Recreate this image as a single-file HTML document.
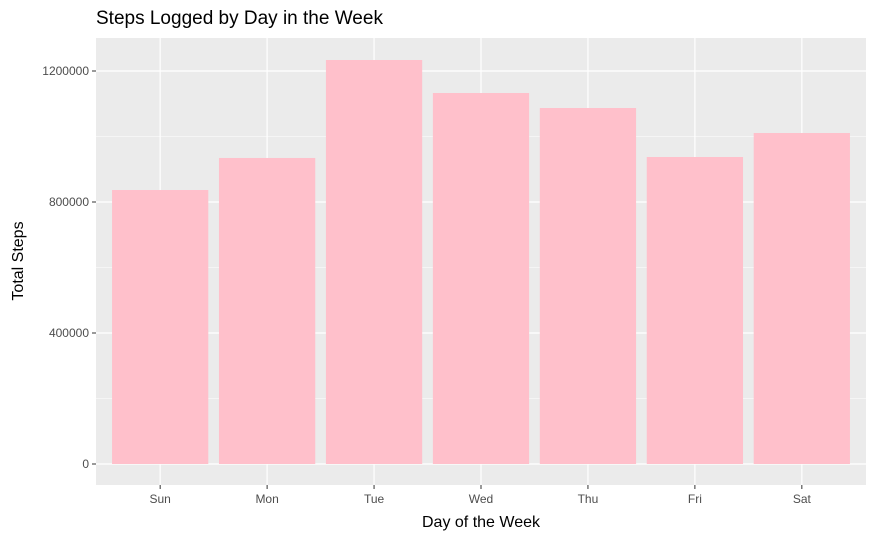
<!DOCTYPE html>
<html><head><meta charset="utf-8"><style>
body{margin:0;background:#fff;}
svg{display:block;font-family:"Liberation Sans",Arial,sans-serif;}
</style></head><body>
<svg id="chart" width="875" height="540">
<text x="96" y="24" font-size="19" fill="#000">Steps Logged by Day in the Week</text>
<rect x="96" y="38" width="770" height="447" fill="#ebebeb"/>
<g id="grid"></g><g id="bars"></g><g id="axes"></g>
<text x="481" y="527" font-size="16" text-anchor="middle" fill="#000">Day of the Week</text>
<text transform="translate(23,261) rotate(-90)" font-size="16" text-anchor="middle" fill="#000">Total Steps</text>
</svg>
<script>
const categories=["Sun","Mon","Tue","Wed","Thu","Fri","Sat"];
const steps=[836600,934400,1233600,1132800,1087000,937400,1010700];
const yTicks=[0,400000,800000,1200000];
const yMinor=[200000,600000,1000000];
const NS="http://www.w3.org/2000/svg";
const px0=96,pw=770,y0=464,yPer=393/1200000;
const step=pw/7.2,barW=step*0.9;
function xC(i){return px0+step*(0.6+i);}
function yS(v){return y0-v*yPer;}
function mk(t,a,p){const e=document.createElementNS(NS,t);for(const k in a)e.setAttribute(k,a[k]);p.appendChild(e);return e;}
const grid=document.getElementById('grid'),bars=document.getElementById('bars'),axes=document.getElementById('axes');
yMinor.forEach(v=>{const l=mk('line',{x1:px0,x2:px0+pw,y1:yS(v),y2:yS(v),stroke:'#fff','stroke-width':0.6},grid);

});
yTicks.forEach(v=>{const l=mk('line',{x1:px0,x2:px0+pw,y1:yS(v),y2:yS(v),stroke:'#fff','stroke-width':1.2},grid);


const t=mk('line',{x1:px0-4,x2:px0,y1:yS(v),y2:yS(v),stroke:'#333','stroke-width':1},axes);


const tx=mk('text',{x:px0-7,y:yS(v)+4,'font-size':12,'text-anchor':'end',fill:'#4d4d4d'},axes);
tx.textContent=String(v);

});
categories.forEach((c,i)=>{const x=xC(i);
const g=mk('line',{x1:x,x2:x,y1:38,y2:485,stroke:'#fff','stroke-width':1.2},grid);


const b=mk('rect',{x:x-barW/2,y:yS(steps[i]),width:barW,height:y0-yS(steps[i]),fill:'#ffc0cb'},bars);


const t=mk('line',{x1:x,x2:x,y1:485,y2:489,stroke:'#333','stroke-width':1},axes);


const tx=mk('text',{x:x,y:503,'font-size':12,'text-anchor':'middle',fill:'#4d4d4d'},axes);
tx.textContent=c;

});
</script>
</body></html>
